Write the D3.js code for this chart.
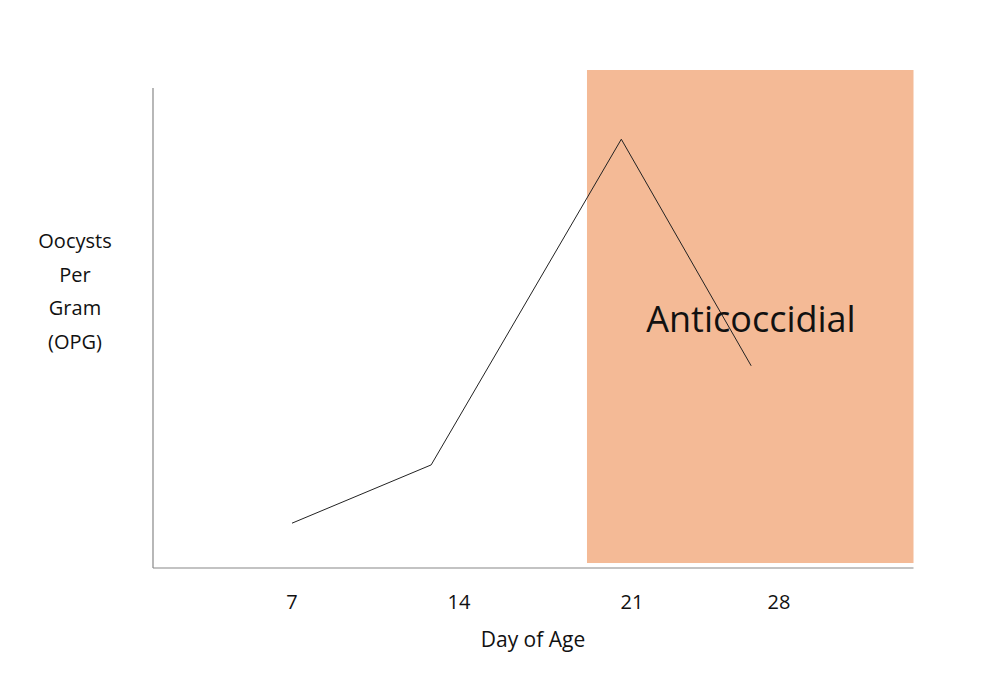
<!DOCTYPE html>
<html><head><meta charset="utf-8">
<script src="https://cdn.jsdelivr.net/npm/d3@7"></script>
<style>body{margin:0;background:#fff}text{font-family:"Open Sans",sans-serif;fill:#111}</style>
</head><body>
<svg id="c" width="986" height="684"></svg>
<script>
const days = [7, 13, 21.2, 26.8];
const opg = [9, 20.7, 86.1, 40.6];
const tickDays = [7, 14, 21, 28];
const tickLabels = ["7", "14", "21", "28"];
const bandStart = 19.72, bandEnd = 33.8, bandTop = 100, bandBottom = 1;
const yLabel = ["Oocysts", "Per", "Gram", "(OPG)"];

const svg = d3.select("#c");
const x = d3.scaleLinear().domain([7, 28]).range([292, 779]);
const y = d3.scaleLinear().domain([0, 100]).range([568, 70]);

svg.append("rect").attr("x", x(bandStart)).attr("y", y(bandTop))
  .attr("width", x(bandEnd) - x(bandStart)).attr("height", y(bandBottom) - y(bandTop))
  .attr("fill", "#F4BA96");

svg.append("line").attr("x1", 153).attr("x2", 153).attr("y1", y(96.4)).attr("y2", y(0))
  .attr("stroke", "#888").attr("stroke-width", 1.2);
svg.append("line").attr("x1", 153).attr("x2", x(33.8)).attr("y1", y(0)).attr("y2", y(0))
  .attr("stroke", "#888").attr("stroke-width", 1.2);

svg.append("path").datum(days.map((d, i) => [d, opg[i]]))
  .attr("d", d3.line().x(d => x(d[0])).y(d => y(d[1])))
  .attr("fill", "none").attr("stroke", "#222").attr("stroke-width", 1);

const tickPx = [292, 459, 632, 779];
svg.selectAll(".tk").data(tickDays).enter().append("text")
  .attr("x", (d, i) => x(d) + (tickPx[i] - x(d)))
  .attr("y", 609).attr("text-anchor", "middle").attr("font-size", 20)
  .text((d, i) => tickLabels[i]);

svg.append("text").attr("x", 533).attr("y", 647).attr("text-anchor", "middle")
  .attr("font-size", 21).text("Day of Age");

svg.selectAll(".yl").data(yLabel).enter().append("text")
  .attr("x", 75).attr("y", (d, i) => 248 + i * 33.7).attr("text-anchor", "middle")
  .attr("font-size", 20).text(d => d);

svg.append("text").attr("x", 751).attr("y", 332).attr("text-anchor", "middle")
  .attr("font-size", 36).text("Anticoccidial");
</script>
</body></html>
